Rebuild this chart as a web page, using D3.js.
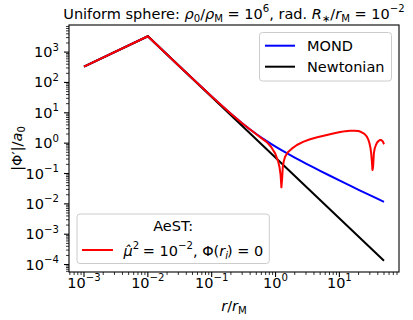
<!DOCTYPE html>
<html><head><meta charset="utf-8">
<script src="https://cdn.jsdelivr.net/npm/d3@7"></script>
<style>body{margin:0;background:#fff}svg{display:block;font-family:"DejaVu Sans",sans-serif}</style>
</head><body><svg id="c" width="413" height="320"></svg>
<script>
// ---- data ----
const newtonR = [1e-3, 1e-2, 50];
const newtonG = [333, 3333, 1.33e-4];

const mondR = [1e-3, 1e-2, 0.03, 0.1, 0.15, 0.2, 0.3, 0.4, 0.5, 0.6, 0.7, 0.85, 1, 1.2, 1.5, 2, 2.5, 3, 4, 5, 7, 10, 15, 20, 30, 40, 50];
const mondG = [334, 3334, 371, 34.3, 15.8, 9.24, 4.52, 2.82, 2.0, 1.53, 1.23, 0.948, 0.767, 0.611, 0.466, 0.333, 0.259, 0.212, 0.155, 0.122, 0.086, 0.059, 0.039, 0.029, 0.0194, 0.0145, 0.0116];

const aestR = [1e-3, 1e-2, 0.03, 0.1, 0.2, 0.3, 0.4, 0.5, 0.6, 0.73, 0.85, 0.986, 1.1, 1.15, 1.2, 1.236, 1.27, 1.3, 1.35, 1.41, 1.5, 1.59, 1.8, 2.16, 2.7, 3.48, 4.5, 6.37, 8, 10.3, 12.5, 14.8, 17, 19.9, 22, 23.9, 25.5, 27, 28.5, 29.6, 30.6, 31.5, 32.3, 33.0, 33.7, 34.7, 35.8, 37.4, 39, 41, 43, 44.7, 46.5, 48.1, 50];
const aestG = [334, 3334, 371, 34.3, 9.24, 4.52, 2.80, 1.96, 1.47, 1.08, 0.76, 0.46, 0.25, 0.168, 0.09, 0.035, 0.07, 0.168, 0.26, 0.358, 0.44, 0.523, 0.66, 0.87, 1.1, 1.34, 1.57, 1.86, 2.08, 2.33, 2.49, 2.57, 2.58, 2.51, 2.33, 2.11, 1.88, 1.63, 1.28, 0.99, 0.72, 0.46, 0.25, 0.13, 0.16, 0.46, 0.68, 0.87, 1.05, 1.18, 1.26, 1.27, 1.22, 1.12, 0.92];

const xTickVals = [1e-3, 1e-2, 1e-1, 1e0, 1e1];
const xTickExp = ["−3", "−2", "−1", "0", "1"];
const yTickVals = [1e-4, 1e-3, 1e-2, 1e-1, 1e0, 1e1, 1e2, 1e3];
const yTickExp = ["−4", "−3", "−2", "−1", "0", "1", "2", "3"];

// ---- layout ----
const L = 69, R = 399, T = 25, B = 272;
const FS = 14.5;
const svg = d3.select("#c");
const x = d3.scaleLog().domain([Math.pow(10, -3.235), Math.pow(10, 1.934)]).range([L, R]);
const y = d3.scaleLog().domain([Math.pow(10, -4.245), Math.pow(10, 3.893)]).range([B, T]);

function rich(t, parts, size) {
  let cur = 0;
  parts.forEach(p => {
    const off = p.s === "sup" ? -0.45 * size : p.s === "sub" ? 0.22 * size : 0;
    const ts = t.append("tspan").attr("dy", off - cur)
      .attr("font-size", p.s ? size * 0.7 : size)
      .attr("font-style", p.i ? "italic" : "normal")
      .text(p.t);
    if (p.dx) ts.attr("dx", p.dx);
    cur = off;
  });
  return t;
}

// clip
svg.append("defs").append("clipPath").attr("id", "clip")
  .append("rect").attr("x", L).attr("y", T).attr("width", R - L).attr("height", B - T);

const line = d3.line().x(d => x(d[0])).y(d => y(d[1]));
const plot = svg.append("g").attr("clip-path", "url(#clip)");
plot.append("path").datum(mondR.map((r, i) => [r, mondG[i]])).attr("d", line)
  .attr("fill", "none").attr("stroke", "#0000ff").attr("stroke-width", 2);
plot.append("path").datum(newtonR.map((r, i) => [r, newtonG[i]])).attr("d", line)
  .attr("fill", "none").attr("stroke", "#000000").attr("stroke-width", 2);
plot.append("path").datum(aestR.map((r, i) => [r, aestG[i]])).attr("d", line)
  .attr("fill", "none").attr("stroke", "#ff0000").attr("stroke-width", 2).attr("stroke-linejoin", "round");

// axes frame
svg.append("rect").attr("x", L).attr("y", T).attr("width", R - L).attr("height", B - T)
  .attr("fill", "none").attr("stroke", "#000").attr("stroke-width", 1.1);

// ticks
const gx = svg.append("g");
const xMinor = [];
for (let e = -4; e <= 1; e++) for (let m = 2; m <= 9; m++) {
  const v = m * Math.pow(10, e);
  if (x(v) >= L && x(v) <= R) xMinor.push(v);
}
gx.selectAll(".xm").data(xMinor).enter().append("line")
  .attr("x1", d => x(d)).attr("x2", d => x(d)).attr("y1", B).attr("y2", B + 3)
  .attr("stroke", "#000").attr("stroke-width", 0.8);
gx.selectAll(".xM").data(xTickVals).enter().append("line")
  .attr("x1", d => x(d)).attr("x2", d => x(d)).attr("y1", B).attr("y2", B + 5)
  .attr("stroke", "#000").attr("stroke-width", 1.1);
xTickVals.forEach((v, i) => {
  const t = svg.append("text").attr("x", x(v)).attr("y", 288).attr("text-anchor", "middle").attr("font-size", FS);
  rich(t, [{t: "10"}, {t: xTickExp[i], s: "sup"}], FS);
});

const yMinor = [];
for (let e = -5; e <= 3; e++) for (let m = 2; m <= 9; m++) {
  const v = m * Math.pow(10, e);
  if (y(v) >= T && y(v) <= B) yMinor.push(v);
}
svg.selectAll(".ym").data(yMinor).enter().append("line")
  .attr("x1", L - 3).attr("x2", L).attr("y1", d => y(d)).attr("y2", d => y(d))
  .attr("stroke", "#000").attr("stroke-width", 0.8);
svg.selectAll(".yM").data(yTickVals).enter().append("line")
  .attr("x1", L - 5).attr("x2", L).attr("y1", d => y(d)).attr("y2", d => y(d))
  .attr("stroke", "#000").attr("stroke-width", 1.1);
yTickVals.forEach((v, i) => {
  const t = svg.append("text").attr("x", 59).attr("y", y(v) + 5).attr("text-anchor", "end").attr("font-size", FS);
  rich(t, [{t: "10"}, {t: yTickExp[i], s: "sup"}], FS);
});

// axis labels
rich(svg.append("text").attr("x", 234).attr("y", 311).attr("text-anchor", "middle").attr("font-size", FS),
  [{t: "r", i: true}, {t: "/"}, {t: "r", i: true}, {t: "M", s: "sub"}], FS);
rich(svg.append("text").attr("transform", "translate(22,148.5) rotate(-90)").attr("text-anchor", "middle").attr("font-size", FS),
  [{t: "|Φ′|/"}, {t: "a", i: true}, {t: "0", s: "sub"}], FS);

// title
rich(svg.append("text").attr("x", 234).attr("y", 19).attr("text-anchor", "middle").attr("font-size", FS),
  [{t: "Uniform sphere: "}, {t: "ρ", i: true}, {t: "0", s: "sub"}, {t: "/"}, {t: "ρ", i: true}, {t: "M", s: "sub"},
   {t: " = 10"}, {t: "6", s: "sup"}, {t: ", rad. "}, {t: "R", i: true}, {t: "∗", s: "sub"}, {t: "/"}, {t: "r", i: true},
   {t: "M", s: "sub"}, {t: " = 10"}, {t: "−2", s: "sup"}], FS);

// legend 1
const lg1 = svg.append("g");
lg1.append("rect").attr("x", 259.5).attr("y", 32.5).attr("width", 132).attr("height", 48.5).attr("rx", 3)
  .attr("fill", "#fff").attr("fill-opacity", 0.8).attr("stroke", "#cccccc").attr("stroke-width", 1);
[["MOND", "#0000ff", 45.7], ["Newtonian", "#000000", 66.7]].forEach(d => {
  lg1.append("line").attr("x1", 265).attr("x2", 295).attr("y1", d[2]).attr("y2", d[2]).attr("stroke", d[1]).attr("stroke-width", 2);
  lg1.append("text").attr("x", 307).attr("y", d[2] + 5.3).attr("font-size", FS).text(d[0]);
});

// legend 2
const lg2 = svg.append("g");
const box2 = lg2.append("rect").attr("x", 77).attr("y", 214).attr("height", 49.5).attr("rx", 3)
  .attr("fill", "#fff").attr("fill-opacity", 0.8).attr("stroke", "#cccccc").attr("stroke-width", 1);
lg2.append("line").attr("x1", 82).attr("x2", 113).attr("y1", 250).attr("y2", 250).attr("stroke", "#ff0000").attr("stroke-width", 2);
const t2 = rich(lg2.append("text").attr("x", 123.5).attr("y", 255.5).attr("font-size", FS),
  [{t: "μ̂", i: true}, {t: "2", s: "sup"}, {t: " = 10", dx: -1}, {t: "−2", s: "sup"}, {t: ", Φ("}, {t: "r", i: true}, {t: "i", i: true, s: "sub"}, {t: ") = 0", dx: -1}], FS);
const w2 = t2.node().getComputedTextLength();
const right2 = 123.5 + w2 + 4;
box2.attr("width", right2 - 77);
lg2.append("text").attr("x", (77 + right2) / 2).attr("y", 231).attr("text-anchor", "middle").attr("font-size", FS).text("AeST:");
</script></body></html>
